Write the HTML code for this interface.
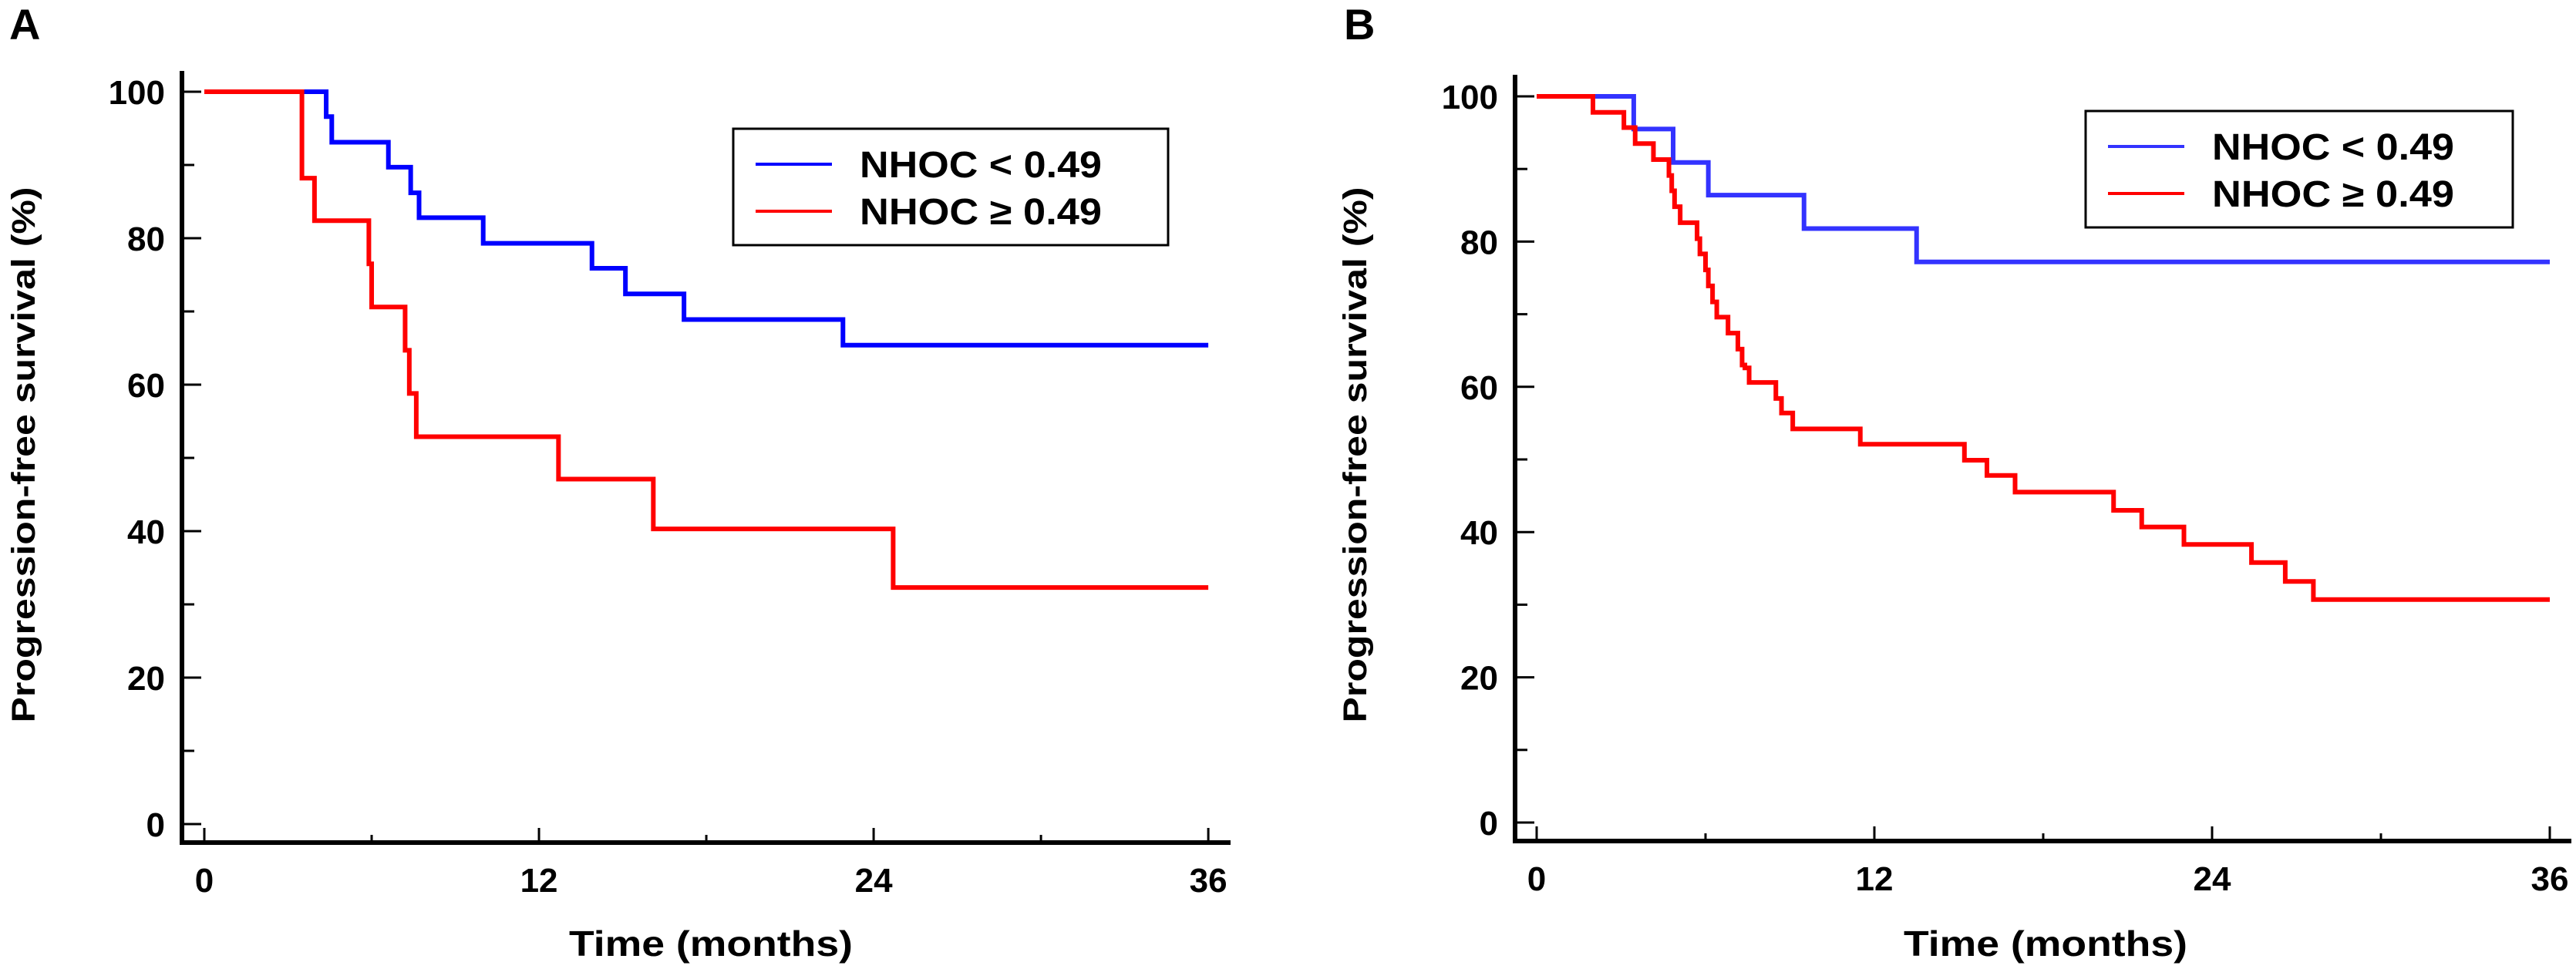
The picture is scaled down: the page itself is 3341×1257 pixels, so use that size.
<!DOCTYPE html>
<html><head><meta charset="utf-8">
<style>
html,body{margin:0;padding:0;background:#fff;}
svg{display:block;font-family:"Liberation Sans",Arial,sans-serif;font-weight:bold;}
</style></head>
<body>
<svg id="fig" width="3341" height="1257" viewBox="0 0 3341 1257" xmlns="http://www.w3.org/2000/svg"></svg>
<script>
// Panel A data
const aBlueTimes = [0, 4.37, 4.57, 6.6, 7.4, 7.7, 10.0, 13.9, 15.1, 17.2, 22.9, 36];
const aBlueVals  = [100, 96.6, 93.1, 89.7, 86.2, 82.8, 79.3, 75.9, 72.4, 68.9, 65.4, 65.4];
const aRedTimes  = [0, 3.5, 3.95, 5.9, 6.0, 7.2, 7.35, 7.6, 12.7, 16.1, 24.7, 36];
const aRedVals   = [100, 88.2, 82.4, 76.5, 70.6, 64.7, 58.8, 52.9, 47.1, 40.3, 32.3, 32.3];
// Panel B data
const bBlueTimes = [0, 3.45, 4.85, 6.1, 9.5, 13.5, 36];
const bBlueVals  = [100, 95.5, 90.9, 86.4, 81.8, 77.2, 77.2];
const bRedTimes  = [0, 2.0, 3.1, 3.5, 4.15, 4.7, 4.8, 4.9, 5.1, 5.7, 5.8, 6.0, 6.1, 6.25, 6.4, 6.8, 7.15, 7.3, 7.4, 7.55, 8.5, 8.7, 9.1, 11.5, 15.2, 16.0, 17.0, 20.5, 21.5, 23.0, 25.4, 26.6, 27.6, 36];
const bRedVals   = [100, 97.8, 95.7, 93.5, 91.3, 89.1, 87.0, 84.8, 82.6, 80.4, 78.3, 76.1, 73.9, 71.7, 69.6, 67.4, 65.2, 63.0, 62.6, 60.6, 58.4, 56.4, 54.2, 52.1, 49.9, 47.8, 45.5, 43.0, 40.7, 38.3, 35.8, 33.2, 30.7, 30.7];
const yTickVals = [0, 20, 40, 60, 80, 100];
const yMinorVals = [10, 30, 50, 70, 90];
const xTickVals = [0, 12, 24, 36];
const xMinorVals = [6, 18, 30];
const legendLabels = ["NHOC < 0.49", "NHOC \u2265 0.49"];

const NS = "http://www.w3.org/2000/svg";
const svg = document.getElementById("fig");
function mk(tag, attrs, parent){
  const e = document.createElementNS(NS, tag);
  for (const k in attrs) e.setAttribute(k, attrs[k]);
  (parent || svg).appendChild(e);
  return e;
}

function panel(cfg){
  const g = mk("g", {});
  
  
  const xs = t => cfg.x0 + t * cfg.pxPerMonth;
  const ys = v => cfg.y0 - v * cfg.pxPerUnit;
  // letter
  const L = mk("text", {x: cfg.letterX, y: 51, "font-size": 56}, g);
  L.textContent = cfg.letter;
  
  
  // axes
  const ya = mk("line", {x1: cfg.axX, y1: cfg.axTop, x2: cfg.axX, y2: cfg.axY + 3, stroke: "#000", "stroke-width": 6}, g);
  
  
  const xa = mk("line", {x1: cfg.axX - 3, y1: cfg.axY, x2: cfg.axRight, y2: cfg.axY, stroke: "#000", "stroke-width": 6}, g);
  
  
  yTickVals.forEach(v => {
    const t = mk("line", {x1: cfg.axX, y1: ys(v), x2: cfg.axX + 25, y2: ys(v), stroke: "#000", "stroke-width": 3}, g);
    
    
    const lb = mk("text", {x: cfg.axX - 22, y: ys(v) + 16, "font-size": 44, "text-anchor": "end"}, g);
    lb.textContent = v;
    
    
  });
  yMinorVals.forEach(v => {
    const t = mk("line", {x1: cfg.axX, y1: ys(v), x2: cfg.axX + 16, y2: ys(v), stroke: "#000", "stroke-width": 3}, g);
    
    
  });
  xTickVals.forEach(v => {
    const t = mk("line", {x1: xs(v), y1: cfg.axY, x2: xs(v), y2: cfg.axY - 19, stroke: "#000", "stroke-width": 3}, g);
    
    
    const lb = mk("text", {x: xs(v), y: cfg.axY + 64, "font-size": 44, "text-anchor": "middle"}, g);
    lb.textContent = v;
    
    
  });
  xMinorVals.forEach(v => {
    const t = mk("line", {x1: xs(v), y1: cfg.axY, x2: xs(v), y2: cfg.axY - 10, stroke: "#000", "stroke-width": 3}, g);
    
    
  });
  // axis titles
  const xt = mk("text", {x: cfg.xTitleX, y: 1240, "font-size": 46, "text-anchor": "middle", textLength: 368, lengthAdjust: "spacingAndGlyphs"}, g);
  xt.textContent = "Time (months)";
  
  
  const yt = mk("text", {x: 0, y: 0, "font-size": 43, "text-anchor": "middle", textLength: 695, lengthAdjust: "spacingAndGlyphs",
    transform: "translate(" + cfg.yTitleX + "," + cfg.yTitleY + ") rotate(-90)"}, g);
  yt.textContent = "Progression-free survival (%)";
  
  
  // curves
  function stepPath(times, vals){
    let d = "M" + xs(times[0]) + "," + ys(vals[0]);
    for (let i = 1; i < times.length; i++){
      d += " H" + xs(times[i]) + " V" + ys(vals[i]);
    }
    return d;
  }
  const bl = mk("path", {d: stepPath(cfg.blueT, cfg.blueV), fill: "none", stroke: cfg.blueColor, "stroke-width": 6}, g);
  
  
  const rd = mk("path", {d: stepPath(cfg.redT, cfg.redV), fill: "none", stroke: "#ff0000", "stroke-width": 6}, g);
  
  
  // legend
  const lg = mk("g", {}, g);
  
  
  const box = mk("rect", {x: cfg.legX, y: cfg.legY, width: cfg.legW, height: cfg.legH, fill: "#fff", stroke: "#000", "stroke-width": 3}, lg);
  
  
  const cols = [cfg.blueColor, "#ff0000"];
  legendLabels.forEach((txt, i) => {
    const ly = cfg.legY + 46 + i * 61;
    const ln = mk("line", {x1: cfg.legX + 29, y1: ly, x2: cfg.legX + 128, y2: ly, stroke: cols[i], "stroke-width": 4}, lg);
    
    
    const tx = mk("text", {x: cfg.legX + 164, y: ly + 17, "font-size": 48, textLength: 314, lengthAdjust: "spacingAndGlyphs"}, lg);
    tx.textContent = txt;
    
    
  });
}

panel({name: "panel-a", letter: "A", letterX: 12,
  axX: 236, axTop: 92, axY: 1093, axRight: 1596,
  x0: 265, pxPerMonth: 36.17, y0: 1069, pxPerUnit: 9.5,
  xTitleX: 922, yTitleX: 45, yTitleY: 590,
  blueT: aBlueTimes, blueV: aBlueVals, redT: aRedTimes, redV: aRedVals, blueColor: "#0000ff",
  legX: 951, legY: 167, legW: 564, legH: 151});

panel({name: "panel-b", letter: "B", letterX: 1743,
  axX: 1965, axTop: 97, axY: 1091, axRight: 3335,
  x0: 1993, pxPerMonth: 36.5, y0: 1067, pxPerUnit: 9.42,
  xTitleX: 1653 + 1000, yTitleX: 1772, yTitleY: 590,
  blueT: bBlueTimes, blueV: bBlueVals, redT: bRedTimes, redV: bRedVals, blueColor: "#3333ff",
  legX: 2705, legY: 144, legW: 554, legH: 151});
</script>
</body></html>
